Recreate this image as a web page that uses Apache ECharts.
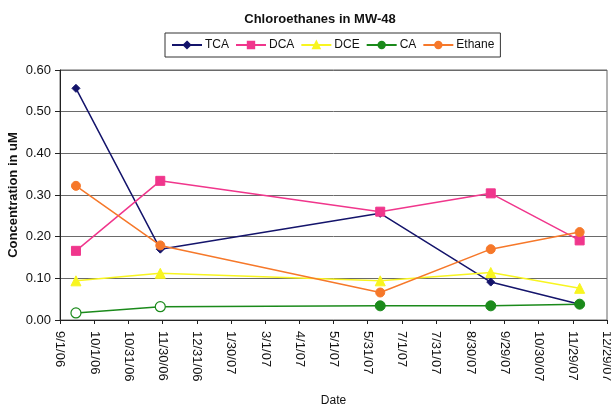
<!DOCTYPE html>
<html><head><meta charset="utf-8">
<script src="https://cdn.jsdelivr.net/npm/echarts@6/dist/echarts.min.js"></script>
<style>html,body{margin:0;padding:0;background:#fff}#c{width:611px;height:413px}</style>
</head><body><div id="c"></div>
<script>
// ---- data ----
const axisStart = '2006-09-01';
const sampleDates = ['2006-09-15', '2006-11-28', '2007-06-09', '2007-09-14', '2007-12-01'];
const tca    = [0.556, 0.170, 0.256, 0.091, 0.038];
const dca    = [0.166, 0.334, 0.260, 0.304, 0.191];
const dce    = [0.094, 0.112, 0.094, 0.114, 0.076];
const ca     = [0.017, 0.032, 0.034, 0.034, 0.038];
const ethane = [0.322, 0.179, 0.066, 0.170, 0.211];
const caDetected = [false, false, true, true, true];
const xTickLabels = ['9/1/06','10/1/06','10/31/06','11/30/06','12/31/06','1/30/07','3/1/07','4/1/07','5/1/07','5/31/07','7/1/07','7/31/07','8/30/07','9/29/07','10/30/07','11/29/07','12/29/07'];
const yTicks = [0, 0.1, 0.2, 0.3, 0.4, 0.5, 0.6];

// ---- build ----
const DAY = 86400000;
const dayOffset = d => Math.round((Date.parse(d) - Date.parse(axisStart)) / DAY);
const xs = sampleDates.map(dayOffset);
const pairs = arr => arr.map((v, i) => [xs[i], v]);
const TICK = 30;

const font = '"Liberation Sans", Arial, sans-serif';
const colors = { TCA: '#14146b', DCA: '#f0368c', DCE: '#f8f520', CA: '#1b8a1b', Ethane: '#f6782a' };

function mk(name, arr, symbol, size) {
  return {
    name, type: 'line', data: pairs(arr), symbol, symbolSize: size,
    lineStyle: { width: 1.5, color: colors[name] },
    itemStyle: { color: colors[name], borderColor: colors[name], borderWidth: 1 },
    emphasis: { disabled: true }
  };
}
const caSeries = mk('CA', ca, 'circle', 10);
caSeries.data = ca.map((v, i) => ({
  value: [xs[i], v],
  itemStyle: caDetected[i] ? { color: colors.CA } : { color: '#ffffff', borderColor: colors.CA, borderWidth: 1.2 }
}));

const chart = echarts.init(document.getElementById('c'), null, { renderer: 'canvas' });
chart.setOption({
  animation: false,
  backgroundColor: '#ffffff',
  textStyle: { fontFamily: font },
  title: {
    text: 'Chloroethanes in MW-48', left: 315, top: 8, textAlign: 'center',
    textStyle: { fontSize: 13, fontWeight: 'bold', color: '#111', fontFamily: font }
  },
  legend: {
    left: 165, top: 33, padding: [6, 6, 6, 6], itemGap: 6, itemWidth: 30, itemHeight: 8,
    borderColor: '#333', borderWidth: 1,
    textStyle: { fontSize: 12, color: '#111', fontFamily: font, padding: [0, 0, 0, -2] },
    data: ['TCA', 'DCA', 'DCE', 'CA', 'Ethane']
  },
  grid: { left: 60, right: 4, top: 70, bottom: 93, show: true, borderColor: '#666', borderWidth: 1,
          outerBoundsMode: 'none', containLabel: false },
  xAxis: {
    type: 'value', min: 0, max: TICK * (xTickLabels.length - 1), interval: TICK,
    name: 'Date', nameLocation: 'middle', nameGap: 75, nameMoveOverlap: false,
    nameTextStyle: { fontSize: 12, color: '#111', fontFamily: font },
    axisLine: { lineStyle: { color: '#222', width: 1 } },
    axisTick: { show: true, inside: false, length: 4, lineStyle: { color: '#222' } },
    splitLine: { show: false },
    axisLabel: {
      rotate: -90, fontSize: 13, color: '#111', margin: 11, fontFamily: font, hideOverlap: false,
      formatter: v => xTickLabels[Math.round(v / TICK)] || ''
    }
  },
  yAxis: {
    type: 'value', min: yTicks[0], max: yTicks[yTicks.length - 1], interval: 0.1,
    name: 'Concentration in uM', nameLocation: 'middle', nameGap: 40, nameRotate: 90, nameMoveOverlap: false,
    nameTextStyle: { fontSize: 13, fontWeight: 'bold', color: '#111', fontFamily: font },
    axisLine: { show: true, lineStyle: { color: '#222', width: 1 } },
    axisTick: { show: true, inside: false, length: 5, lineStyle: { color: '#222' } },
    splitLine: { show: true, lineStyle: { color: '#6a6a6a', width: 1 } },
    axisLabel: { fontSize: 13, color: '#111', margin: 9, fontFamily: font, formatter: v => v.toFixed(2) }
  },
  series: [
    mk('TCA', tca, 'diamond', 8),
    mk('DCA', dca, 'rect', 9),
    mk('DCE', dce, 'triangle', 10),
    caSeries,
    mk('Ethane', ethane, 'circle', 9)
  ]
});
</script>
</body></html>
